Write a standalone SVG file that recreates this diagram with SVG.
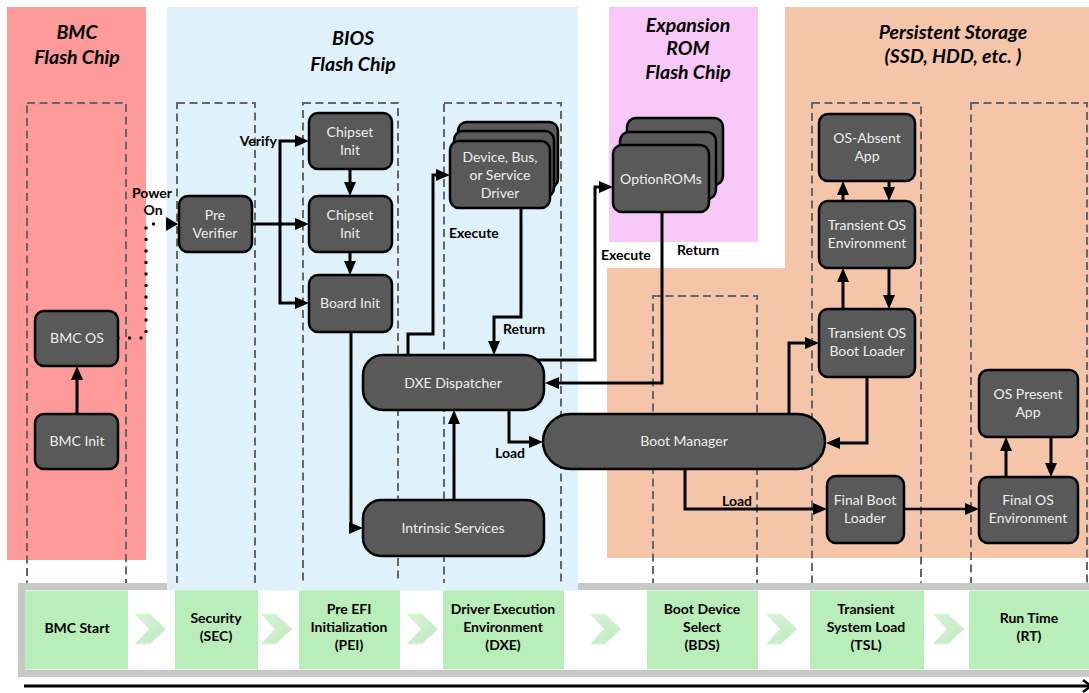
<svg xmlns="http://www.w3.org/2000/svg" width="1089" height="693" viewBox="0 0 1089 693">
<style>
.bg{stroke:none}
.lane{fill:none;stroke:#666;stroke-width:2;stroke-dasharray:8 4.5}
.node{fill:#595959;stroke:#000;stroke-width:2.5}
.nt{font-family:Lato,'Liberation Sans',sans-serif;font-size:14px;fill:#eeeeee;text-anchor:middle}
.title{font-family:Lato,'Liberation Sans',sans-serif;font-size:19.5px;font-weight:bold;font-style:italic;fill:#000;text-anchor:middle}
.lbl{font-family:Lato,'Liberation Sans',sans-serif;font-size:14px;font-weight:bold;fill:#000}
.bt{font-family:Lato,'Liberation Sans',sans-serif;font-size:14px;font-weight:bold;fill:#000;text-anchor:middle}
.green{fill:#b9edb9}
.conn{fill:none;stroke:#000;stroke-width:3;marker-end:url(#ah)}
</style>
<defs>
<marker id="ah" markerUnits="userSpaceOnUse" markerWidth="14" markerHeight="12" refX="4" refY="6" orient="auto">
<path d="M0,0 L14,6 L0,12 z" fill="#000"/>
</marker>
<linearGradient id="cg" x1="0" y1="0" x2="1" y2="1">
<stop offset="0" stop-color="#d6f3d6"/>
<stop offset="1" stop-color="#bfeabf"/>
</linearGradient>
</defs>
<rect width="1089" height="693" fill="#fff"/>

<g id="regions">
<rect class="bg" x="7" y="7" width="139" height="553" fill="#ff9a9a"/>
<rect class="bg" x="167" y="7" width="411" height="584" fill="#dff2fc"/>
<rect class="bg" x="609" y="7" width="149" height="235" fill="#f8c8f8"/>
<path class="bg" d="M785,7 H1089 V558 H607 V268 H785 Z" fill="#f5c5aa"/>
<text class="title" x="77" y="39">BMC</text>
<text class="title" x="77" y="64">Flash Chip</text>
<text class="title" x="353" y="45">BIOS</text>
<text class="title" x="353" y="71">Flash Chip</text>
<text class="title" x="688" y="32">Expansion</text>
<text class="title" x="688" y="55">ROM</text>
<text class="title" x="688" y="79">Flash Chip</text>
<text class="title" x="953" y="39">Persistent Storage</text>
<text class="title" x="953" y="63">(SSD, HDD, etc. )</text>
</g>

<g id="lanes">
<rect class="lane" x="27" y="103" width="99" height="500"/>
<rect class="lane" x="177" y="103" width="78" height="500"/>
<rect class="lane" x="303" y="103" width="95" height="500"/>
<rect class="lane" x="444" y="103" width="117" height="500"/>
<rect class="lane" x="653" y="296" width="104" height="310"/>
<rect class="lane" x="812" y="103" width="109" height="500"/>
<rect class="lane" x="971" y="103" width="116" height="500"/>
</g>

<g id="phase-bar">
<rect x="21.5" y="586.5" width="1080" height="87" fill="#fff" stroke="#c8c8c8" stroke-width="7"/>
<rect x="167" y="583" width="411" height="7.5" fill="#dff2fc"/>
<rect class="green" x="25" y="590.5" width="103" height="79"/>
<rect class="green" x="175" y="590.5" width="83" height="79"/>
<rect class="green" x="299" y="590.5" width="101" height="79"/>
<rect class="green" x="443" y="590.5" width="121" height="79"/>
<rect class="green" x="647" y="590.5" width="111" height="79"/>
<rect class="green" x="810" y="590.5" width="114" height="79"/>
<rect class="green" x="969" y="590.5" width="125" height="79"/>
<g fill="url(#cg)" stroke="#e2f6e2" stroke-width="1">
<polygon points="135,614 150,614 166,629 150,644 135,644 149,629"/>
<polygon points="261,614 276,614 292,629 276,644 261,644 275,629"/>
<polygon points="407,614 422,614 438,629 422,644 407,644 421,629"/>
<polygon points="590,614 605,614 621,629 605,644 590,644 604,629"/>
<polygon points="766,614 781,614 797,629 781,644 766,644 780,629"/>
<polygon points="933,614 948,614 964,629 948,644 933,644 947,629"/>
</g>
<text class="bt" x="77" y="633">BMC Start</text>
<text class="bt" x="216" y="623">Security</text>
<text class="bt" x="216" y="641">(SEC)</text>
<text class="bt" x="349" y="614">Pre EFI</text>
<text class="bt" x="349" y="632">Initialization</text>
<text class="bt" x="349" y="650">(PEI)</text>
<text class="bt" x="503" y="614">Driver Execution</text>
<text class="bt" x="503" y="632">Environment</text>
<text class="bt" x="503" y="650">(DXE)</text>
<text class="bt" x="702" y="614">Boot Device</text>
<text class="bt" x="702" y="632">Select</text>
<text class="bt" x="702" y="650">(BDS)</text>
<text class="bt" x="866" y="614">Transient</text>
<text class="bt" x="866" y="632">System Load</text>
<text class="bt" x="866" y="650">(TSL)</text>
<text class="bt" x="1029" y="623">Run Time</text>
<text class="bt" x="1029" y="641">(RT)</text>
<line x1="24" y1="686" x2="1089" y2="686" stroke="#000" stroke-width="3"/>
<polyline points="1083,680 1091,686 1083,692" fill="none" stroke="#000" stroke-width="2.5"/>
</g>

<g id="connectors">
<path class="conn" d="M77,414 V376"/>
<path d="M118,338 H146 V224 H160" fill="none" stroke="#000" stroke-width="3.5" stroke-linecap="round" stroke-dasharray="0 11.5"/>
<path d="M166,217 L178,224 L166,231 z" fill="#000"/>
<path class="conn" d="M252,224 H299"/>
<path class="conn" d="M280,224 V141 H299"/>
<path class="conn" d="M280,224 V303 H299"/>
<path class="conn" d="M350,169 V186"/>
<path class="conn" d="M350,252 V265"/>
<path class="conn" d="M351,332 V528 H353"/>
<path class="conn" d="M454,500 V420"/>
<path class="conn" d="M408,355 V334 H433 V175 H440"/>
<path class="conn" d="M521,208 V317 H494 V345"/>
<path class="conn" d="M537,360 H595 V187 H603"/>
<path class="conn" d="M662,212 V383 H555"/>
<path class="conn" d="M509,410 V442 H533"/>
<path class="conn" d="M789,414 V343 H809"/>
<path class="conn" d="M867,377 V443 H836"/>
<path class="conn" d="M843,309 V278"/>
<path class="conn" d="M889,268 V299"/>
<path class="conn" d="M843,201 V191"/>
<path class="conn" d="M889,181 V191"/>
<path class="conn" d="M685,469 V509 H817"/>
<path class="conn" d="M904,509 H969" style="stroke-width:2.5"/>
<path class="conn" d="M1006,477 V447"/>
<path class="conn" d="M1051,437 V467"/>
<text class="lbl" x="152" y="198" text-anchor="middle">Power</text>
<text class="lbl" x="153" y="215" text-anchor="middle">On</text>
<text class="lbl" x="277" y="146" text-anchor="end">Verify</text>
<text class="lbl" x="449" y="238">Execute</text>
<text class="lbl" x="503" y="334">Return</text>
<text class="lbl" x="601" y="260">Execute</text>
<text class="lbl" x="677" y="255">Return</text>
<text class="lbl" x="495" y="458">Load</text>
<text class="lbl" x="722" y="506">Load</text>
</g>

<g id="n-bmc-os"><rect class="node" x="35" y="311" width="83" height="55" rx="9"/><text class="nt" x="77" y="343">BMC OS</text></g>
<g id="n-bmc-init"><rect class="node" x="35" y="414" width="83" height="55" rx="9"/><text class="nt" x="77" y="446">BMC Init</text></g>
<g id="n-pre-verifier"><rect class="node" x="179" y="196" width="73" height="56" rx="9"/><text class="nt" x="215" y="220">Pre</text><text class="nt" x="215" y="238">Verifier</text></g>
<g id="n-chipset-init-1"><rect class="node" x="309" y="113" width="83" height="56" rx="9"/><text class="nt" x="350" y="137">Chipset</text><text class="nt" x="350" y="155">Init</text></g>
<g id="n-chipset-init-2"><rect class="node" x="309" y="196" width="83" height="56" rx="9"/><text class="nt" x="350" y="220">Chipset</text><text class="nt" x="350" y="238">Init</text></g>
<g id="n-board-init"><rect class="node" x="309" y="275" width="83" height="57" rx="9"/><text class="nt" x="350" y="308">Board Init</text></g>
<g id="n-device-driver">
<rect class="node" x="458" y="122" width="100" height="66" rx="9"/>
<rect class="node" x="454" y="131" width="100" height="66" rx="9"/>
<rect class="node" x="450" y="141" width="100" height="67" rx="9"/>
<text class="nt" x="500" y="162">Device, Bus,</text><text class="nt" x="500" y="180">or Service</text><text class="nt" x="500" y="198">Driver</text></g>
<g id="n-optionroms">
<rect class="node" x="627" y="118" width="96" height="67" rx="9"/>
<rect class="node" x="620" y="132" width="96" height="67" rx="9"/>
<rect class="node" x="613" y="145" width="96" height="67" rx="9"/>
<text class="nt" x="661" y="184">OptionROMs</text></g>
<g id="n-dxe-dispatcher"><rect class="node" x="363" y="355" width="181" height="55" rx="20"/><text class="nt" x="453" y="388">DXE Dispatcher</text></g>
<g id="n-intrinsic"><rect class="node" x="363" y="500" width="181" height="56" rx="18"/><text class="nt" x="453" y="533">Intrinsic Services</text></g>
<g id="n-boot-manager"><rect class="node" x="543" y="414" width="282" height="55" rx="27.5"/><text class="nt" x="684" y="446">Boot Manager</text></g>
<g id="n-os-absent"><rect class="node" x="819" y="114" width="96" height="67" rx="9"/><text class="nt" x="867" y="143">OS-Absent</text><text class="nt" x="867" y="161">App</text></g>
<g id="n-tos-env"><rect class="node" x="819" y="201" width="96" height="67" rx="9"/><text class="nt" x="867" y="230">Transient OS</text><text class="nt" x="867" y="248">Environment</text></g>
<g id="n-tos-loader"><rect class="node" x="819" y="309" width="96" height="68" rx="9"/><text class="nt" x="867" y="338">Transient OS</text><text class="nt" x="867" y="356">Boot Loader</text></g>
<g id="n-final-loader"><rect class="node" x="827" y="476" width="77" height="67" rx="9"/><text class="nt" x="865" y="505">Final Boot</text><text class="nt" x="865" y="523">Loader</text></g>
<g id="n-os-present"><rect class="node" x="979" y="370" width="99" height="67" rx="9"/><text class="nt" x="1028" y="399">OS Present</text><text class="nt" x="1028" y="417">App</text></g>
<g id="n-final-os-env"><rect class="node" x="979" y="477" width="99" height="66" rx="9"/><text class="nt" x="1028" y="505">Final OS</text><text class="nt" x="1028" y="523">Environment</text></g>
</svg>
